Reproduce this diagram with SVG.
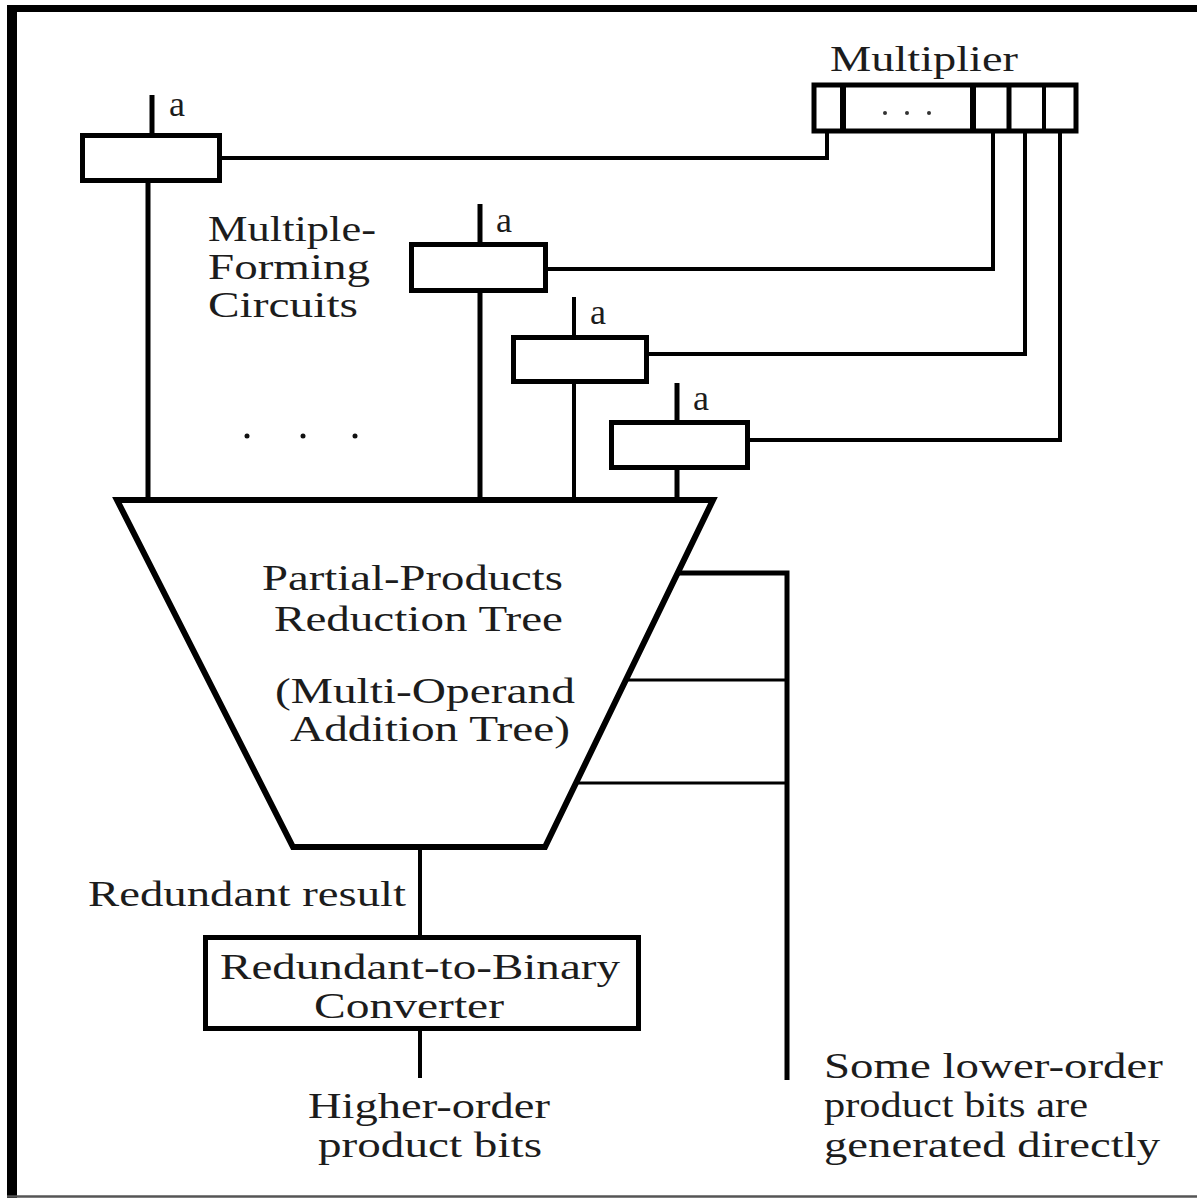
<svg xmlns="http://www.w3.org/2000/svg" width="1197" height="1198" viewBox="0 0 1197 1198">
<style>
  text { font-family: "Liberation Serif", "Times New Roman", serif; font-size: 36px; fill: #1c1c1c; }
  .box { fill: #fff; stroke: #000; stroke-width: 5; }
  .w { fill: none; stroke: #000; stroke-width: 5; }
  .t { fill: none; stroke: #000; stroke-width: 4; }
  .n { fill: none; stroke: #000; stroke-width: 3; }
</style>
<rect width="1197" height="1198" fill="#fff"/>
<g id="frame">
  <line x1="12" y1="5" x2="12" y2="1198" stroke="#000" stroke-width="10"/>
  <line x1="7" y1="8.5" x2="1197" y2="8.5" stroke="#000" stroke-width="7"/>
  <line x1="7" y1="1196.5" x2="1197" y2="1196.5" stroke="#555" stroke-width="2.5"/>
</g>
<g id="connectors">
  <path class="t" d="M827,133 V158 H220"/>
  <path class="t" d="M993,133 V269 H546"/>
  <path class="t" d="M1025,133 V354 H647"/>
  <path class="t" d="M1060,133 V440 H748"/>
  <line class="w" x1="152" y1="95" x2="152" y2="135"/>
  <line class="w" x1="480" y1="204" x2="480" y2="244"/>
  <line class="t" x1="574" y1="297" x2="574" y2="337"/>
  <line class="w" x1="677" y1="383" x2="677" y2="422"/>
  <line class="w" x1="148" y1="181" x2="148" y2="500"/>
  <line class="w" x1="480" y1="291" x2="480" y2="500"/>
  <line class="t" x1="574" y1="382" x2="574" y2="500"/>
  <line class="w" x1="677" y1="468" x2="677" y2="500"/>
  <path class="w" d="M678,573 H787 V1080"/>
  <line class="n" x1="627" y1="680" x2="787" y2="680"/>
  <line class="n" x1="576" y1="783" x2="787" y2="783"/>
  <line class="t" x1="420" y1="847" x2="420" y2="937"/>
  <line class="t" x1="420" y1="1028" x2="420" y2="1078"/>
</g>
<g id="multiplier">
  <rect class="box" x="814" y="85" width="262" height="46"/>
  <line x1="843" y1="85" x2="843" y2="131" stroke="#000" stroke-width="6"/>
  <line x1="973" y1="85" x2="973" y2="131" stroke="#000" stroke-width="6"/>
  <line x1="1009" y1="85" x2="1009" y2="131" stroke="#000" stroke-width="5"/>
  <line x1="1044" y1="85" x2="1044" y2="131" stroke="#000" stroke-width="4"/>
  <circle cx="885" cy="113" r="2" fill="#333"/>
  <circle cx="907" cy="113" r="2" fill="#333"/>
  <circle cx="929" cy="113" r="2" fill="#333"/>
  <text x="830" y="71" textLength="188" lengthAdjust="spacingAndGlyphs">Multiplier</text>
</g>
<g id="mfc1">
  <rect class="box" x="82.5" y="135.5" width="137" height="45"/>
  <text x="169" y="116">a</text>
</g>
<g id="mfc2">
  <rect class="box" x="411.5" y="244.5" width="134" height="46"/>
  <text x="496" y="232">a</text>
</g>
<g id="mfc3">
  <rect class="box" x="513.5" y="337.5" width="133" height="44"/>
  <text x="590" y="324">a</text>
</g>
<g id="mfc4">
  <rect class="box" x="611.5" y="422.5" width="136" height="45"/>
  <text x="693" y="410">a</text>
</g>
<g id="mfc-label">
  <text x="208" y="241" textLength="168" lengthAdjust="spacingAndGlyphs">Multiple-</text>
  <text x="208" y="279" textLength="162" lengthAdjust="spacingAndGlyphs">Forming</text>
  <text x="208" y="317" textLength="150" lengthAdjust="spacingAndGlyphs">Circuits</text>
  <circle cx="247" cy="436" r="2.5" fill="#111"/>
  <circle cx="303" cy="436" r="2.5" fill="#111"/>
  <circle cx="355" cy="436" r="2.5" fill="#111"/>
</g>
<g id="tree">
  <path d="M117,500 H713 L545,847 H293 Z" fill="#fff" stroke="#000" stroke-width="6" stroke-linejoin="miter"/>
  <text x="262" y="590" textLength="301" lengthAdjust="spacingAndGlyphs">Partial-Products</text>
  <text x="274" y="631" textLength="289" lengthAdjust="spacingAndGlyphs">Reduction Tree</text>
  <text x="275" y="703" textLength="300" lengthAdjust="spacingAndGlyphs">(Multi-Operand</text>
  <text x="290" y="741" textLength="280" lengthAdjust="spacingAndGlyphs">Addition Tree)</text>
</g>
<g id="redundant-label">
  <text x="88" y="906" textLength="318" lengthAdjust="spacingAndGlyphs">Redundant result</text>
</g>
<g id="converter">
  <rect class="box" x="205.5" y="937.5" width="433" height="91"/>
  <text x="220" y="979" textLength="400" lengthAdjust="spacingAndGlyphs">Redundant-to-Binary</text>
  <text x="314" y="1018" textLength="190" lengthAdjust="spacingAndGlyphs">Converter</text>
</g>
<g id="higher-label">
  <text x="308" y="1118" textLength="242" lengthAdjust="spacingAndGlyphs">Higher-order</text>
  <text x="318" y="1157" textLength="224" lengthAdjust="spacingAndGlyphs">product bits</text>
</g>
<g id="lower-label">
  <text x="824" y="1078" textLength="339" lengthAdjust="spacingAndGlyphs">Some lower-order</text>
  <text x="824" y="1117" textLength="264" lengthAdjust="spacingAndGlyphs">product bits are</text>
  <text x="824" y="1157" textLength="336" lengthAdjust="spacingAndGlyphs">generated directly</text>
</g>
</svg>
